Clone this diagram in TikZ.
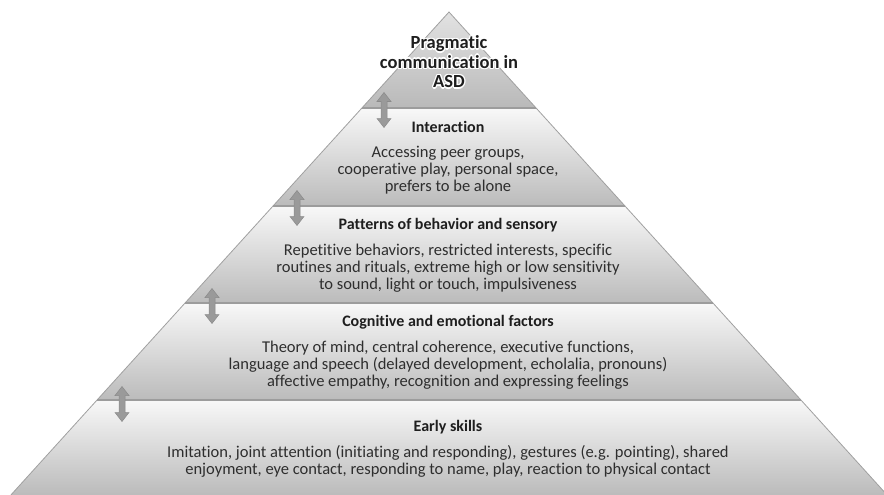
\documentclass[tikz,border=0pt]{standalone}
\usepackage{fontspec}
\setmainfont{Carlito}[Ligatures=NoCommon]
\usepackage{contour}
\contourlength{1.3pt}
\contournumber{8}
\definecolor{bandtop}{HTML}{F8F8F8}
\definecolor{bandbot}{HTML}{BBBBBB}
\definecolor{capetop}{HTML}{E2E2E2}
\definecolor{capebot}{HTML}{B9B9B9}
\definecolor{edgegray}{HTML}{A0A0A0}
\definecolor{sepgray}{HTML}{9C9C9C}
\definecolor{arrowfill}{HTML}{9A9A9A}
\definecolor{arrowedge}{HTML}{8A8A8A}
\definecolor{inktext}{HTML}{2E2E2E}
\definecolor{inkhead}{HTML}{1E1E1E}
\begin{document}
\begin{tikzpicture}[x=1pt,y=-1pt,
  band/.style={top color=bandtop,bottom color=bandbot,draw=none},
  cape/.style={top color=capetop,bottom color=capebot,draw=none},
  sepline/.style={draw=sepgray,line width=1.3pt},
  sideline/.style={draw=edgegray,line width=0.8pt},
  pics/updown/.style={code={
    \path[fill=arrowfill,draw=arrowedge,line width=0.5pt]
      (0,-17.5) -- (7,-8.5) -- (3,-8.5) -- (3,8.5) -- (7,8.5) -- (0,17.5)
      -- (-7,8.5) -- (-3,8.5) -- (-3,-8.5) -- (-7,-8.5) -- cycle;}},
  apextext/.style={align=center,text=inkhead,inner sep=0pt,
    font=\bfseries\fontsize{18.5}{19.5}\selectfont},
  headtext/.style={text=inkhead,inner sep=0pt,
    font=\bfseries\fontsize{16}{18}\selectfont},
  bodytext/.style={align=center,text=inktext,inner sep=0pt,
    font=\fontsize{16.5}{17.3}\selectfont}]
\useasboundingbox (0,0) rectangle (884,495);

% corners of the pyramid and its level boundaries
\coordinate (A)  at (449,12);
\coordinate (L1) at (361.9,108); \coordinate (R1) at (536.1,108);
\coordinate (L2) at (273.0,206); \coordinate (R2) at (625.0,206);
\coordinate (L3) at (185.1,303); \coordinate (R3) at (712.9,303);
\coordinate (L4) at (97.1,400);  \coordinate (R4) at (800.9,400);
\coordinate (L5) at (10.9,495);  \coordinate (R5) at (887.1,495);

% shaded levels
\path[cape] (A) -- (R1) -- (L1) -- cycle;
\path[band] (L1) -- (R1) -- (R2) -- (L2) -- cycle;
\path[band] (L2) -- (R2) -- (R3) -- (L3) -- cycle;
\path[band] (L3) -- (R3) -- (R4) -- (L4) -- cycle;
\path[band] (L4) -- (R4) -- (R5) -- (L5) -- cycle;

% outline and level separators
\draw[sideline] (L5) -- (A) -- (R5);
\draw[sepline] (L1) -- (R1);
\draw[sepline] (L2) -- (R2);
\draw[sepline] (L3) -- (R3);
\draw[sepline] (L4) -- (R4);

% two-way arrows between levels
\pic (a1) at (384,110) {updown};
\pic (a2) at (297,208) {updown};
\pic (a3) at (212,306) {updown};
\pic (a4) at (122,404) {updown};

% apex label with a white halo
\node[apextext] (apex) at (449,62.5)
  {\contour{white}{Pragmatic}\\\contour{white}{communication in}\\\contour{white}{ASD}};

% level texts
\node[headtext] (h1) at (448,127) {Interaction};
\node[bodytext] (b1) at (448,170)
  {Accessing peer groups,\\cooperative play, personal space,\\prefers to be alone};

\node[headtext] (h2) at (448,225) {Patterns of behavior and sensory};
\node[bodytext] (b2) at (448,268)
  {Repetitive behaviors, restricted interests, specific\\routines and rituals, extreme high or low sensitivity\\to sound, light or touch, impulsiveness};

\node[headtext] (h3) at (448,322) {Cognitive and emotional factors};
\node[bodytext] (b3) at (448,365)
  {Theory of mind, central coherence, executive functions,\\language and speech (delayed development, echolalia, pronouns)\\affective empathy, recognition and expressing feelings};

\node[headtext] (h4) at (448,427) {Early skills};
\node[bodytext] (b4) at (448,461.5)
  {Imitation, joint attention (initiating and responding), gestures (e.g. pointing), shared\\enjoyment, eye contact, responding to name, play, reaction to physical contact};
\end{tikzpicture}
\end{document}
